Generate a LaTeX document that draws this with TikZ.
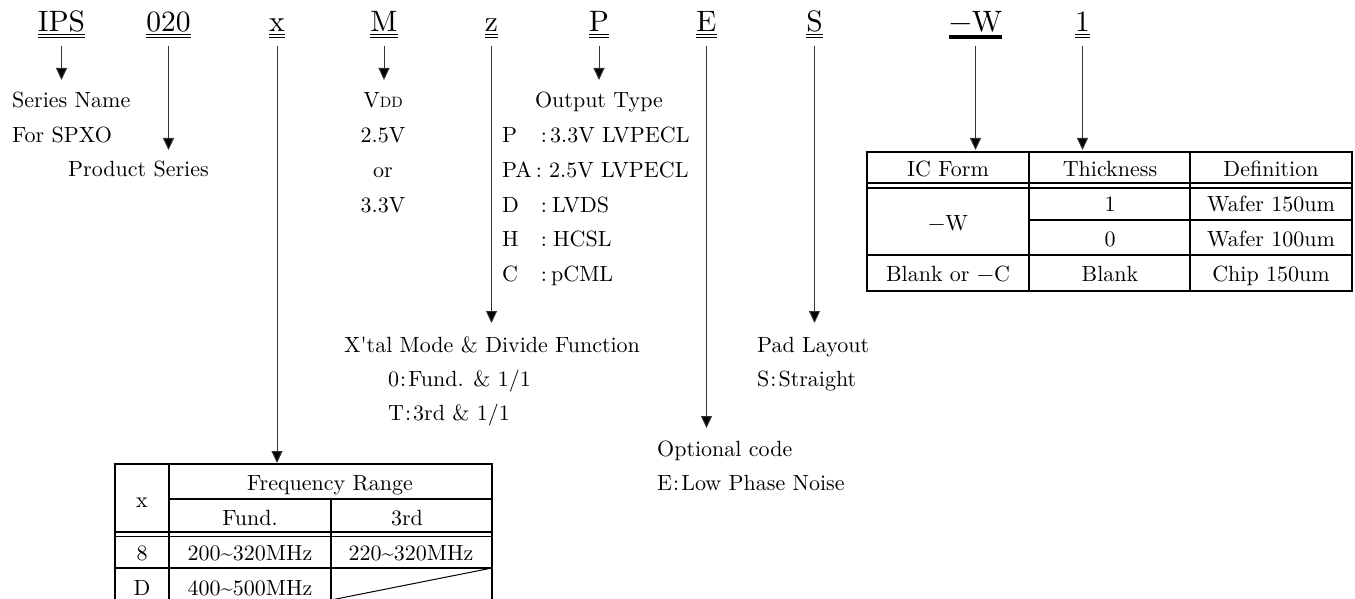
\documentclass[tikz,border=0pt]{standalone}
\usepackage{fontspec}
\setmainfont{lmroman10-regular.otf}
\usetikzlibrary{arrows.meta}
\begin{document}
\begin{tikzpicture}[x=1pt,y=-1pt,
  lab/.style={font=\fontsize{29.5}{32}\selectfont, inner sep=0pt, anchor=base},
  txt/.style={font=\fontsize{22}{26}\selectfont, inner sep=0pt, anchor=base},
  txtw/.style={txt, anchor=base west},
  arr/.style={draw=black!80, line width=1pt, -{Triangle[length=12pt,width=11pt,fill=black]}},
  ul/.style={line width=1.3pt},
  tbl/.style={line width=1.8pt, line cap=rect},
  thin2/.style={line width=1.2pt}]
\useasboundingbox (0,0) rectangle (1355,599);
\coordinate (u1) at (0,34.6);
\coordinate (u2) at (0,37.7);
\coordinate (y0) at (0,46);
\coordinate (t80) at (0,80);
\coordinate (t150) at (0,150);
\coordinate (t323) at (0,323);
\coordinate (t428) at (0,428);
\coordinate (t463) at (0,463);
% top code letters
\node[lab] (ips) at (61.5,32) {IPS};
\node[lab] (n020) at (168.5,32) {020};
\node[lab] (cx) at (277,32) {x};
\node[lab] (cm) at (384,32) {M};
\node[lab] (cz) at (491.5,32) {z};
\node[lab] (cp) at (599,32) {P};
\node[lab] (ce) at (706.5,32) {E};
\node[lab] (cs) at (814.5,32) {S};
\node[lab] (cw) at (975.5,32) {−W};
\node[lab] (c1) at (1082.5,32) {1};
\foreach \n in {ips,n020,cx,cm,cz,cp,ce,cs,c1}{
  \draw[ul] (\n.west |- u1) -- (\n.east |- u1);
  \draw[ul] (\n.west |- u2) -- (\n.east |- u2);
}
\draw[line width=4pt] (cw.west |- 0,37) -- (cw.east |- 0,37);
% arrows
\draw[arr] (ips.south |- y0) -- (ips.south |- t80);
\draw[arr] (n020.south |- y0) -- (n020.south |- t150);
\draw[arr] (cx.south |- y0) -- (cx.south |- t463);
\draw[arr] (cm.south |- y0) -- (cm.south |- t80);
\draw[arr] (cz.south |- y0) -- (cz.south |- t323);
\draw[arr] (cp.south |- y0) -- (cp.south |- t80);
\draw[arr] (ce.south |- y0) -- (ce.south |- t428);
\draw[arr] (cs.south |- y0) -- (cs.south |- t323);
\draw[arr] (cw.south |- y0) -- (cw.south |- t150);
\draw[arr] (c1.south |- y0) -- (c1.south |- t150);
% left descriptions
\node[txtw] (sn) at (12,107.5) {Series Name};
\node[txtw] (spxo) at (12,142.3) {For SPXO};
\node[txtw] (ps) at (68,177) {Product Series};
% VDD
\node[txt] (vdd) at (383,108) {V{\fontsize{15}{16}\selectfont DD}};
\node[txt] (v25) at (383,142.7) {2.5V};
\node[txt] (vor) at (383,177.4) {or};
\node[txt] (v33) at (383,212.1) {3.3V};
% Output type
\node[txt] (ot) at (599,108) {Output Type};
\node[txtw] (o1) at (502,142.7) {P};
\node[txt] (o1c) at (544,142.7) {:};
\node[txtw] (o1v) at (550,142.7) {3.3V LVPECL};
\node[txtw] (o2) at (502,177.4) {PA};
\node[txt] (o2c) at (539,177.4) {:};
\node[txtw] (o2v) at (549,177.4) {2.5V LVPECL};
\node[txtw] (o3) at (502,212.1) {D};
\node[txt] (o3c) at (544,212.1) {:};
\node[txtw] (o3v) at (552,212.1) {LVDS};
\node[txtw] (o4) at (502,246.8) {H};
\node[txt] (o4c) at (544,246.8) {:};
\node[txtw] (o4v) at (553,246.8) {HCSL};
\node[txtw] (o5) at (502,281.5) {C};
\node[txt] (o5c) at (544,281.5) {:};
\node[txtw] (o5v) at (551,281.5) {pCML};
% X'tal mode
\node[txt] (xt) at (492,352) {X\textquotesingle tal Mode \& Divide Function};
\node[txtw] (xt0) at (388,386) {0\kern1pt:\kern2pt Fund. \& 1/1};
\node[txtw] (xt1) at (388,420) {T\kern1pt:\kern2pt 3rd \& 1/1};
% Pad layout
\node[txtw] (pl) at (757,352) {Pad Layout};
\node[txtw] (pls) at (757,386) {S\kern1pt:\kern2pt Straight};
% Optional code
\node[txtw] (oc) at (657,456) {Optional code};
\node[txtw] (oce) at (657,490) {E\kern1pt:\kern2pt Low Phase Noise};
% right table
\draw[tbl] (867,152) rectangle (1352,291);
\draw[thin2] (867,183) -- (1352,183);
\draw[thin2] (867,188) -- (1352,188);
\draw[tbl] (1029,220) -- (1352,220);
\draw[tbl] (867,255) -- (1352,255);
\draw[tbl] (1029,152) -- (1029,291);
\draw[tbl] (1190,152) -- (1190,291);
\node[txt] (rh1) at (948,176) {IC Form};
\node[txt] (rh2) at (1110,176) {Thickness};
\node[txt] (rh3) at (1271,176) {Definition};
\node[txt] (rw) at (948,230) {−W};
\node[txt] (r11) at (1110,211.7) {1};
\node[txt] (r12) at (1271,211.7) {Wafer 150um};
\node[txt] (r01) at (1110,246) {0};
\node[txt] (r02) at (1271,246) {Wafer 100um};
\node[txt] (rb0) at (948,281.7) {Blank or −C};
\node[txt] (rb1) at (1110,281.7) {Blank};
\node[txt] (rb2) at (1271,281.7) {Chip 150um};
% left table
\draw[tbl] (115,601) -- (115,464) -- (492,464) -- (492,601);
\draw[tbl] (169,464) -- (169,601);
\draw[tbl] (169,499) -- (492,499);
\draw[tbl] (331,499) -- (331,601);
\draw[thin2] (115,532) -- (492,532);
\draw[thin2] (115,536.5) -- (492,536.5);
\draw[tbl] (115,568) -- (492,568);
\draw[tbl] (115,601) -- (492,601);
\draw[line width=1pt] (331,600) -- (492,568);
\node[txt] (lx) at (142,507) {x};
\node[txt] (lfr) at (330,490.7) {Frequency Range};
\node[txt] (lfu) at (250,525.7) {Fund.};
\node[txt] (l3) at (407,525.7) {3rd};
\node[txt] (l8) at (142,560) {8};
\node[txt] (l8a) at (250,560) {200\textasciitilde 320MHz};
\node[txt] (l8b) at (411,560) {220\textasciitilde 320MHz};
\node[txt] (lD) at (142,595) {D};
\node[txt] (lDa) at (250,595) {400\textasciitilde 500MHz};
\end{tikzpicture}
\end{document}
